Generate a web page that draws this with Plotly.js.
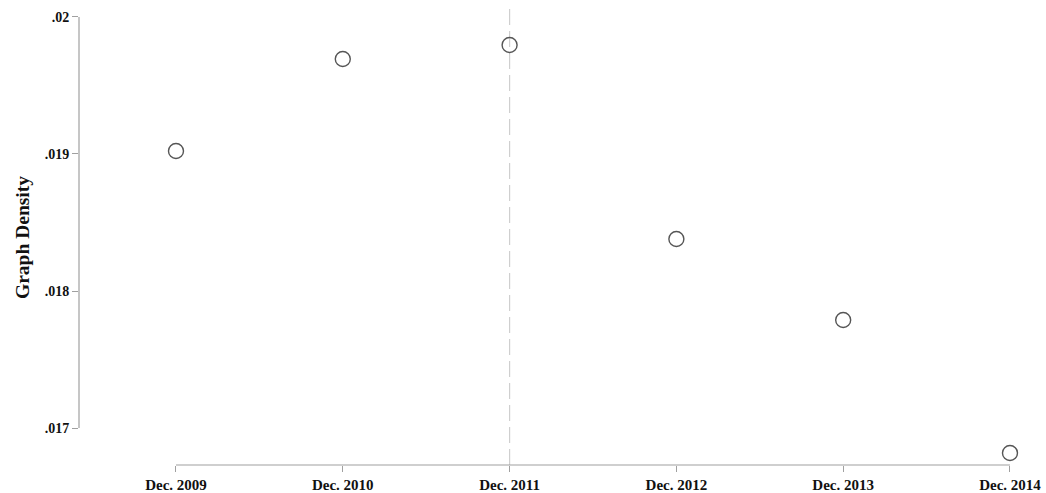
<!DOCTYPE html>
<html><head><meta charset="utf-8">
<script src="https://cdn.plot.ly/plotly-3.0.1.min.js"></script>
<style>body{margin:0;background:#fff}#chart{width:1046px;height:493px}</style>
</head><body><div id="chart"></div>
<script>
const years = [2009, 2010, 2011, 2012, 2013, 2014];
const xLabels = ["Dec. 2009", "Dec. 2010", "Dec. 2011", "Dec. 2012", "Dec. 2013", "Dec. 2014"];
const density = [0.019022, 0.019693, 0.019796, 0.01838, 0.017788, 0.016818];
const yTicks = [0.017, 0.018, 0.019, 0.02];
const yTickLabels = [".017", ".018", ".019", ".02"];
const markerYear = 2011;

const font = {family: "Liberation Serif, DejaVu Serif, serif", color: "#111"};
const axisColor = "#a0a0a0";

const trace = {
  x: years, y: density, mode: "markers", type: "scatter",
  marker: {symbol: "circle-open", size: 15, color: "#555", line: {width: 1.4, color: "#555"}},
  hoverinfo: "skip", showlegend: false
};

const layout = {
  width: 1046, height: 493,
  margin: {l: 79, r: 6, t: 10, b: 28},
  paper_bgcolor: "#fff", plot_bgcolor: "#fff",
  font: font,
  xaxis: {
    range: [2008.4185, 2014.18], showgrid: false, zeroline: false, showline: false,
    tickvals: years, ticktext: xLabels, ticks: "outside", ticklen: 6, tickcolor: axisColor, tickwidth: 1,
    tickfont: {family: font.family, size: 15, color: "#111", weight: "bold"}
  },
  yaxis: {
    range: [0.01673, 0.020051], showgrid: false, zeroline: false, showline: false,
    tickvals: yTicks, ticktext: yTickLabels, ticks: "outside", ticklen: 6, tickcolor: axisColor, tickwidth: 1,
    tickfont: {family: font.family, size: 14, color: "#111", weight: "bold"},
    title: {text: "Graph Density", standoff: 9, font: {family: font.family, size: 19.5, color: "#111", weight: "bold"}}
  },
  shapes: [
    {type: "line", xref: "paper", yref: "y", x0: 0, x1: 0, y0: yTicks[0], y1: yTicks[yTicks.length-1],
     line: {color: axisColor, width: 1.2}},
    {type: "line", xref: "x", yref: "paper", x0: years[0], x1: years[years.length-1], y0: 0, y1: 0,
     line: {color: axisColor, width: 1.2}},
    {type: "line", xref: "x", yref: "paper", x0: markerYear, x1: markerYear, y0: 0, y1: 1.012,
     line: {color: "#cfcfcf", width: 1.2, dash: "16px,6px"}, layer: "below"}
  ]
};

Plotly.newPlot("chart", [trace], layout, {displayModeBar: false, staticPlot: true});
</script></body></html>
